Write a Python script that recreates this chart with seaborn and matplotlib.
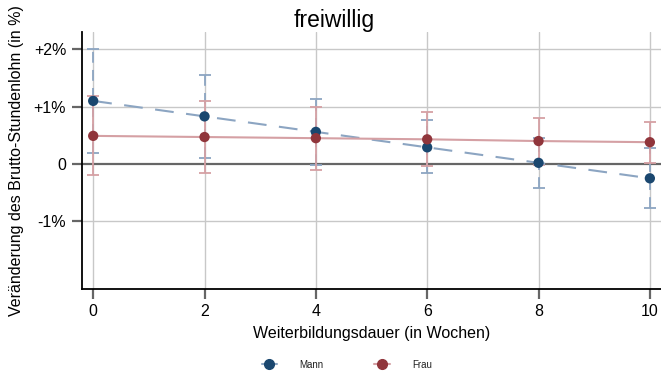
import matplotlib
matplotlib.use("Agg")
import matplotlib.pyplot as plt
import seaborn as sns
import pandas as pd
import numpy as np
from matplotlib.lines import Line2D

weeks = [0, 2, 4, 6, 8, 10]
mann = [1.10, 0.83, 0.56, 0.29, 0.02, -0.25]
mann_lo = [0.20, 0.11, -0.01, -0.16, -0.42, -0.76]
mann_hi = [2.00, 1.56, 1.13, 0.76, 0.46, 0.28]
frau = [0.49, 0.47, 0.45, 0.43, 0.40, 0.38]
frau_lo = [-0.19, -0.15, -0.10, -0.03, -0.01, 0.02]
frau_hi = [1.19, 1.09, 0.99, 0.90, 0.81, 0.73]
ytick_vals = [-1, 0, 1, 2]
ytick_labels = ["-1%", "0", "+1%", "+2%"]
xtick_vals = [0, 2, 4, 6, 8, 10]

sns.set_theme(style="white")
plt.rcParams['font.family'] = ['Liberation Sans', 'DejaVu Sans']
plt.rcParams['text.color'] = 'black'
plt.rcParams['axes.labelcolor'] = 'black'
plt.rcParams['xtick.labelcolor'] = 'black'
plt.rcParams['ytick.labelcolor'] = 'black'

df = pd.DataFrame({
    "Weeks": weeks * 2,
    "Value": mann + frau,
    "Group": ["Mann"] * len(weeks) + ["Frau"] * len(weeks),
})

c_mann_line = "#8ca5c2"
c_mann_mark = "#1a476f"
c_frau_line = "#d5a0a4"
c_frau_mark = "#90353b"

fig = plt.figure(figsize=(6.61, 3.73), dpi=100)
ax = fig.add_axes([0.1233, 0.2252, 0.8767, 0.6888])
ax.set_xlim(-0.21, 10.2)
ax.set_ylim(-2.18, 2.30)

# grid
for v in xtick_vals:
    ax.axvline(v, color="#c8c8c8", lw=1.0, zorder=0)
for v in [1, 2, -1]:
    ax.axhline(v, color="#c8c8c8", lw=1.0, zorder=0)
ax.axhline(0, color="#666666", lw=1.6, zorder=1)

# error bars
ax.errorbar(weeks, mann, yerr=[np.array(mann) - np.array(mann_lo), np.array(mann_hi) - np.array(mann)],
            fmt="none", ecolor=c_mann_line, elinewidth=1.3, capsize=4, capthick=1.3, zorder=2)
ax.collections[0].set_linestyle((0, (6, 4)))
ax.errorbar(weeks, frau, yerr=[np.array(frau) - np.array(frau_lo), np.array(frau_hi) - np.array(frau)],
            fmt="none", ecolor=c_frau_line, elinewidth=1.3, capsize=4, capthick=1.3, zorder=2)

# lines
sns.lineplot(data=df[df.Group == "Mann"], x="Weeks", y="Value", ax=ax, color=c_mann_line,
             lw=1.5, linestyle=(0, (9, 6)), zorder=3, legend=False)
sns.lineplot(data=df[df.Group == "Frau"], x="Weeks", y="Value", ax=ax, color=c_frau_line,
             lw=1.5, zorder=3, legend=False)
# markers
sns.scatterplot(data=df, x="Weeks", y="Value", hue="Group",
                palette={"Mann": c_mann_mark, "Frau": c_frau_mark},
                s=55, edgecolor="none", ax=ax, zorder=4, legend=False)

ax.set_xticks(xtick_vals)
ax.set_xticklabels([str(v) for v in xtick_vals], fontsize=11.5)
ax.set_yticks(ytick_vals)
ax.set_yticklabels(ytick_labels, fontsize=11.5)
ax.tick_params(axis="both", direction="out", length=7, width=1.6, color="#666666", pad=4,
               left=True, bottom=True, labelcolor="black")
for s in ["top", "right"]:
    ax.spines[s].set_visible(False)
for s in ["left", "bottom"]:
    ax.spines[s].set_color("black")
    ax.spines[s].set_linewidth(1.3)

ax.set_xlabel("Weiterbildungsdauer (in Wochen)", fontsize=11.5, labelpad=5, color="black")
ax.set_ylabel("Veränderung des Brutto-Stundenlohn (in %)", fontsize=11.5, labelpad=7, color="black")
fig.text(0.505, 0.945, "freiwillig", ha="center", va="center", fontsize=16.5, color="black")

handles = [
    Line2D([], [], color=c_mann_line, lw=1.5, marker="o", markersize=7,
           markerfacecolor=c_mann_mark, markeredgecolor=c_mann_mark),
    Line2D([], [], color=c_frau_line, lw=1.5, marker="o", markersize=7,
           markerfacecolor=c_frau_mark, markeredgecolor=c_frau_mark),
]
fig.legend(handles, ["Mann", "Frau"], loc="center", bbox_to_anchor=(0.5245, 0.022),
           ncol=2, frameon=False, fontsize=7, handlelength=1.6, handletextpad=2.3,
           columnspacing=5.2, labelcolor="#222222")

fig.savefig("out.png", dpi=100)
